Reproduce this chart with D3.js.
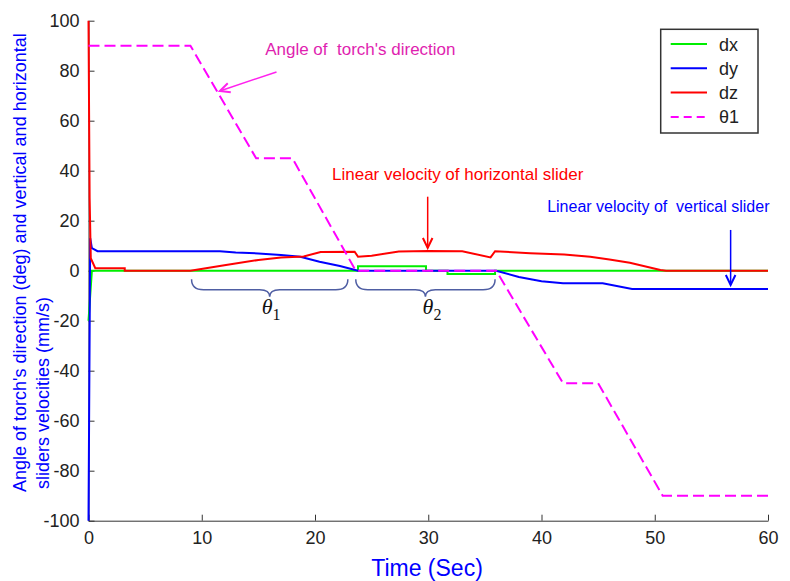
<!DOCTYPE html>
<html lang="en">
<head>
    <meta charset="UTF-8">
    <title>Torch angle and slider velocities</title>
    <script src="https://d3js.org/d3.v7.min.js"></script>
    <style>
        body { margin: 0; background: #fff; }
        svg { display: block; font-family: "Liberation Sans", Arial, sans-serif; }
    </style>
</head>
<body>
    <svg width="790" height="581"></svg>
    <script>
        // time (s) and values
        const dxT = [0, 0.3, 23.8, 23.8, 29.8, 29.8, 31.7, 31.7, 35.9, 35.9, 60];
        const dxV = [-20, 0, 0, 1.8, 1.8, 0, 0, -1.3, -1.3, 0, 0];

        const dyT = [0, 0.15, 0.3, 0.8, 11.6, 13, 15, 17, 18.7, 20.4, 22.2, 23.8, 36, 38, 40, 41.9, 45.4, 48, 60];
        const dyV = [-100, 13, 9, 7.8, 7.8, 7.3, 6.9, 6.3, 5.6, 3.6, 1.9, 0, 0, -2.5, -4.2, -5, -5, -7.3, -7.3];

        const dzT = [0, 0.1, 0.2, 0.6, 3.2, 3.2, 9, 12, 15, 17, 19, 20.5, 23.5, 23.8, 25, 27.4, 30, 33, 35.5, 35.9, 39, 42, 44.3, 46, 47.8, 50.5, 51, 60];
        const dzV = [100, 29, 5, 1, 1, 0, 0, 2.2, 4.3, 5.3, 5.7, 7.5, 7.6, 5.6, 6.0, 7.7, 7.9, 7.8, 5.3, 7.8, 7.0, 6.5, 5.6, 4.5, 3.2, 0.3, 0, 0];

        const thT = [0, 9, 14.8, 18, 23.6, 36, 41.9, 45, 50.7, 60];
        const thV = [90, 90, 45, 45, 0, 0, -45, -45, -90, -90];

        const xTicks = [0, 10, 20, 30, 40, 50, 60];
        const yTicks = [-100, -80, -60, -40, -20, 0, 20, 40, 60, 80, 100];

        const series = [
            { name: "dx", t: dxT, v: dxV, color: "#00ee00", dash: null },
            { name: "dy", t: dyT, v: dyV, color: "#0000ff", dash: null },
            { name: "dz", t: dzT, v: dzV, color: "#ff0000", dash: null },
            { name: "θ1", t: thT, v: thV, color: "#ff00ff", dash: "11,5" }
        ];

        const svg = d3.select("svg");
        const x = d3.scaleLinear().domain([0, 60]).range([88.5, 768]);
        const y = d3.scaleLinear().domain([-100, 100]).range([520.7, 20.7]);

        // axes (ticks point inward), plain hyphen for negatives
        const fmt = d => String(d);
        const gx = svg.append("g")
            .attr("transform", `translate(0,${y(-100)})`)
            .call(d3.axisBottom(x).tickValues(xTicks).tickFormat(fmt).tickSizeInner(-6).tickSizeOuter(0).tickPadding(11));
        const gy = svg.append("g")
            .attr("transform", `translate(${x(0)},0)`)
            .call(d3.axisLeft(y).tickValues(yTicks).tickFormat(fmt).tickSizeInner(-6).tickSizeOuter(0).tickPadding(9));
        [gx, gy].forEach(g => {
            g.selectAll("path, line").attr("stroke", "#333");
            g.selectAll("text").attr("font-size", 18).attr("fill", "#222")
                .attr("font-family", "\"Liberation Sans\", Arial, sans-serif");
        });

        // data lines
        const line = d3.line().x(d => x(d[0])).y(d => y(d[1]));
        series.forEach(s => {
            svg.append("path")
                .datum(s.t.map((t, i) => [t, s.v[i]]))
                .attr("d", line)
                .attr("fill", "none")
                .attr("stroke", s.color)
                .attr("stroke-width", 2)
                .attr("stroke-dasharray", s.dash);
        });

        // braces under theta1 / theta2 intervals
        function brace(t0, t1) {
            const a = x(t0), b = x(t1), m = (a + b) / 2;
            const top = y(-3.4), mid = y(-7.6), tip = y(-10.4);
            return `M${a},${top} Q${a},${mid} ${a + 12},${mid} L${m - 10},${mid} Q${m},${mid} ${m},${tip}` +
                   ` Q${m},${mid} ${m + 10},${mid} L${b - 12},${mid} Q${b},${mid} ${b},${top}`;
        }
        [[9.1, 22.9], [23.6, 35.9]].forEach(r => {
            svg.append("path").attr("d", brace(r[0], r[1]))
                .attr("fill", "none").attr("stroke", "#4f5ea3").attr("stroke-width", 1.5);
        });
        [[15.3, "1"], [29.5, "2"]].forEach(d => {
            const tx = svg.append("text")
                .attr("x", x(d[0])).attr("y", y(-17.5))
                .attr("font-family", "\"Liberation Serif\", \"Times New Roman\", serif")
                .attr("font-style", "italic").attr("font-size", 22).attr("fill", "#111");
            tx.append("tspan").text("θ");
            tx.append("tspan").attr("dy", 6).attr("font-size", 16).attr("font-style", "normal").text(d[1]);
        });

        // annotations with arrows
        function arrow(t0, v0, t1, v1, color) {
            const x0 = x(t0), y0 = y(v0), x1 = x(t1), y1 = y(v1);
            const ang = Math.atan2(y1 - y0, x1 - x0), L = 11, w = 0.45;
            svg.append("line").attr("x1", x0).attr("y1", y0).attr("x2", x1).attr("y2", y1)
                .attr("stroke", color).attr("stroke-width", 1.5);
            svg.append("path")
                .attr("d", `M${x1 - L * Math.cos(ang - w)},${y1 - L * Math.sin(ang - w)} L${x1},${y1} L${x1 - L * Math.cos(ang + w)},${y1 - L * Math.sin(ang + w)}`)
                .attr("fill", "none").attr("stroke", color).attr("stroke-width", 2);
        }
        arrow(16.6, 79.5, 11.6, 71.9, "#ff22ee");
        arrow(29.95, 29.6, 29.95, 9.1, "#ff0000");
        arrow(56.7, 16.3, 56.7, -5.7, "#0000ff");

        const notes = [
            { text: "Angle of  torch's direction", t: 15.6, v: 86.3, color: "#e01fb0", size: 17 },
            { text: "Linear velocity of horizontal slider", t: 21.5, v: 36.3, color: "#ff0000", size: 17 },
            { text: "Linear velocity of  vertical slider", t: 40.5, v: 23.6, color: "#0000ff", size: 16 }
        ];
        notes.forEach(n => {
            svg.append("text").attr("x", x(n.t)).attr("y", y(n.v))
                .attr("fill", n.color).attr("font-size", n.size)
                .style("white-space", "pre").text(n.text);
        });

        // legend
        const lg = svg.append("g");
        lg.append("rect").attr("x", 660.7).attr("y", 29.3).attr("width", 97.3).attr("height", 103.7)
            .attr("fill", "#fff").attr("stroke", "#333").attr("stroke-width", 1.5);
        series.forEach((s, i) => {
            const yy = 44 + i * 24.3;
            lg.append("line").attr("x1", 670.7).attr("x2", 707).attr("y1", yy).attr("y2", yy)
                .attr("stroke", s.color).attr("stroke-width", 2)
                .attr("stroke-dasharray", s.dash ? "8,5" : null);
            lg.append("text").attr("x", 719).attr("y", yy + 6.5)
                .attr("font-size", 18).attr("fill", "#222").text(s.name);
        });

        // axis titles
        svg.append("text").attr("x", 427).attr("y", 576).attr("text-anchor", "middle")
            .attr("font-size", 23).attr("fill", "#0000ff").text("Time (Sec)");
        svg.append("text").attr("transform", "translate(26,492) rotate(-90)")
            .attr("font-size", 18).attr("fill", "#0000ff")
            .text("Angle of torch's direction (deg) and vertical and horizontal");
        svg.append("text").attr("transform", "translate(49,489) rotate(-90)")
            .attr("font-size", 18).attr("fill", "#0000ff")
            .text("sliders velocities (mm/s)");
    </script>
</body>
</html>
